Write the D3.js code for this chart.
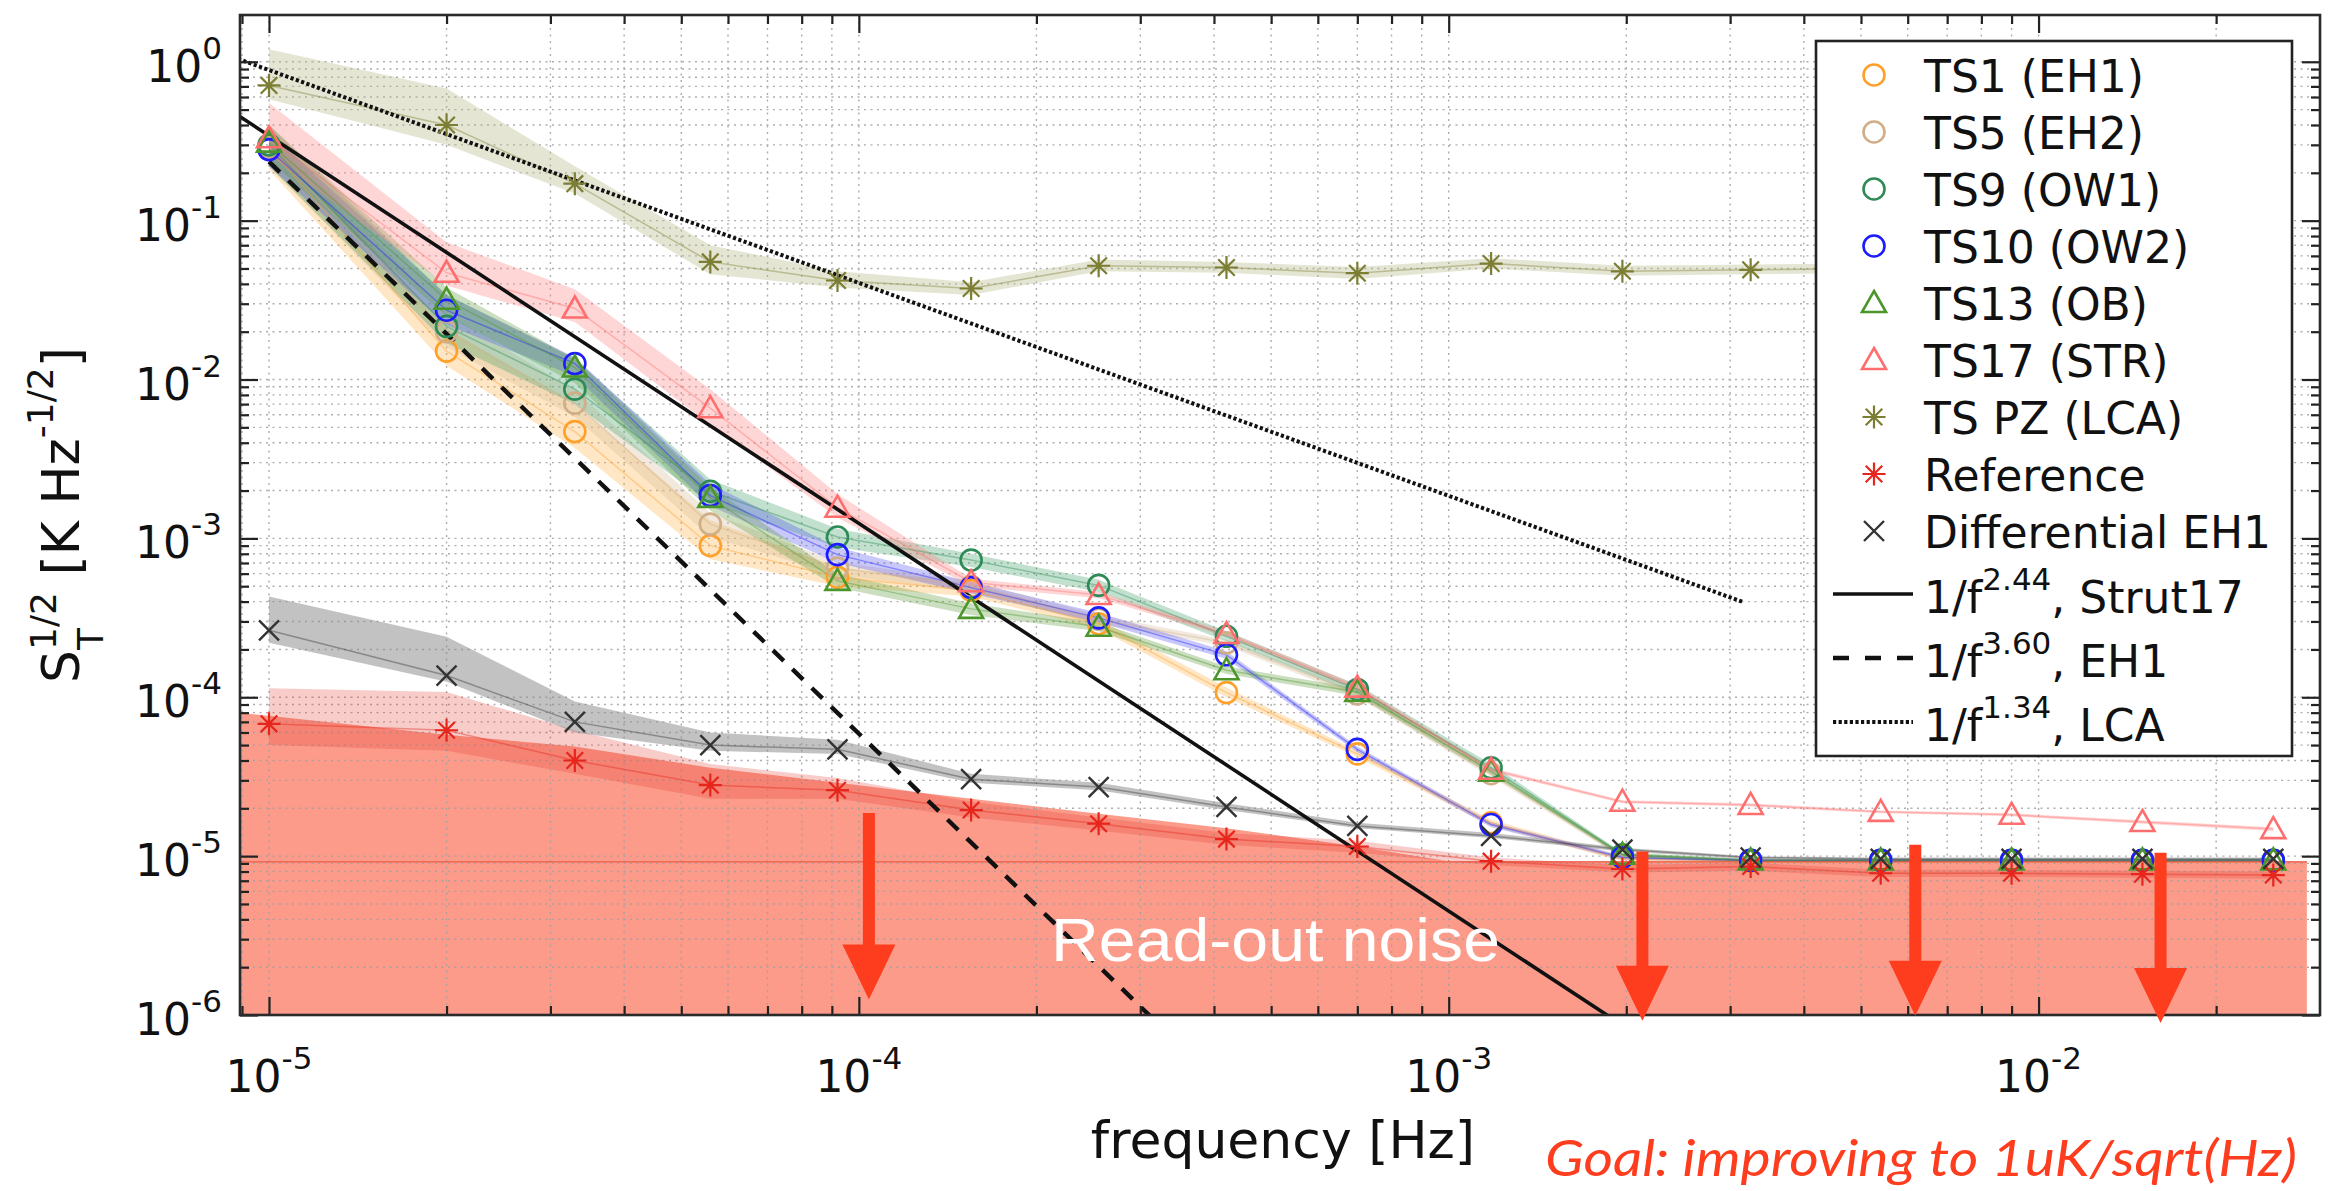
<!DOCTYPE html>
<html>
<head>
<meta charset="utf-8">
<script src="https://cdn.jsdelivr.net/npm/d3@7"></script>
<style>
  html, body { margin: 0; padding: 0; background: #fff; }
  svg { display: block; }
</style>
</head>
<body>
<svg id="chart" width="2330" height="1191"></svg>
<script>
// ---------------------------------------------------------------------------
// Data: temperature noise spectral density S_T^(1/2) [K Hz^-1/2] per sensor
// ---------------------------------------------------------------------------
const freq = [1e-5, 2e-5, 3.3e-5, 5.6e-5, 9.2e-5, 1.55e-4, 2.55e-4, 4.2e-4,
              7.0e-4, 1.18e-3, 1.97e-3, 3.25e-3, 5.4e-3, 9.0e-3, 1.5e-2, 2.5e-2];

const ts1Val = [0.29, 0.0151, 4.7e-3, 9.0e-4, 5.7e-4, 4.7e-4, 2.9e-4, 1.07e-4, 4.4e-5, 1.62e-5, 9.6e-6, 9.3e-6, 9.3e-6, 9.3e-6, 9.3e-6, 9.3e-6];
const ts1Lo  = [0.21, 0.0122, 3.7e-3, 7.4e-4, 5.0e-4, 4.3e-4, 2.7e-4, 1.0e-4, 4.2e-5, 1.55e-5, 9.3e-6, 9.1e-6, 9.1e-6, 9.1e-6, 9.1e-6, 9.1e-6];
const ts1Hi  = [0.36, 0.021, 7.0e-3, 1.3e-3, 6.6e-4, 5.2e-4, 3.1e-4, 1.15e-4, 4.6e-5, 1.7e-5, 9.9e-6, 9.5e-6, 9.5e-6, 9.5e-6, 9.5e-6, 9.5e-6];

const ts5Val = [0.29, 0.020, 7.1e-3, 1.23e-3, 6.5e-4, 5.0e-4, 3.1e-4, 2.2e-4, 1.05e-4, 3.3e-5, 1.0e-5, 9.4e-6, 9.4e-6, 9.4e-6, 9.4e-6, 9.4e-6];
const ts5Lo  = [0.22, 0.016, 5.8e-3, 1.02e-3, 5.9e-4, 4.6e-4, 2.9e-4, 2.1e-4, 1.0e-4, 3.15e-5, 9.7e-6, 9.2e-6, 9.2e-6, 9.2e-6, 9.2e-6, 9.2e-6];
const ts5Hi  = [0.38, 0.026, 8.6e-3, 1.45e-3, 7.1e-4, 5.4e-4, 3.3e-4, 2.3e-4, 1.1e-4, 3.45e-5, 1.03e-5, 9.6e-6, 9.6e-6, 9.6e-6, 9.6e-6, 9.6e-6];

const ts9Val = [0.30, 0.0216, 8.7e-3, 1.98e-3, 1.02e-3, 7.3e-4, 5.06e-4, 2.42e-4, 1.12e-4, 3.6e-5, 1.02e-5, 9.4e-6, 9.4e-6, 9.4e-6, 9.4e-6, 9.4e-6];
const ts9Lo  = [0.22, 0.017, 7.0e-3, 1.65e-3, 8.8e-4, 6.6e-4, 4.6e-4, 2.25e-4, 1.05e-4, 3.4e-5, 9.8e-6, 9.2e-6, 9.2e-6, 9.2e-6, 9.2e-6, 9.2e-6];
const ts9Hi  = [0.40, 0.034, 0.0135, 2.35e-3, 1.15e-3, 8.0e-4, 5.5e-4, 2.6e-4, 1.2e-4, 3.8e-5, 1.05e-5, 9.6e-6, 9.6e-6, 9.6e-6, 9.6e-6, 9.6e-6];

const ts10Val = [0.28, 0.0273, 0.0126, 1.86e-3, 7.9e-4, 4.9e-4, 3.16e-4, 1.85e-4, 4.7e-5, 1.58e-5, 9.8e-6, 9.4e-6, 9.4e-6, 9.4e-6, 9.4e-6, 9.4e-6];
const ts10Lo  = [0.22, 0.022, 0.0105, 1.6e-3, 7.0e-4, 4.5e-4, 2.95e-4, 1.75e-4, 4.5e-5, 1.52e-5, 9.5e-6, 9.2e-6, 9.2e-6, 9.2e-6, 9.2e-6, 9.2e-6];
const ts10Hi  = [0.36, 0.034, 0.0138, 2.2e-3, 8.8e-4, 5.3e-4, 3.4e-4, 1.95e-4, 4.9e-5, 1.64e-5, 1.01e-5, 9.6e-6, 9.6e-6, 9.6e-6, 9.6e-6, 9.6e-6];

const ts13Val = [0.31, 0.0318, 0.0119, 1.8e-3, 5.4e-4, 3.6e-4, 2.78e-4, 1.48e-4, 1.08e-4, 3.4e-5, 1.02e-5, 9.4e-6, 9.4e-6, 9.4e-6, 9.4e-6, 9.4e-6];
const ts13Lo  = [0.24, 0.025, 9.5e-3, 1.5e-3, 4.9e-4, 3.3e-4, 2.6e-4, 1.4e-4, 1.02e-4, 3.25e-5, 9.9e-6, 9.2e-6, 9.2e-6, 9.2e-6, 9.2e-6, 9.2e-6];
const ts13Hi  = [0.40, 0.038, 0.0135, 2.1e-3, 6.0e-4, 3.9e-4, 2.95e-4, 1.56e-4, 1.14e-4, 3.55e-5, 1.05e-5, 9.6e-6, 9.6e-6, 9.6e-6, 9.6e-6, 9.6e-6];

const ts17Val = [0.33, 0.047, 0.028, 6.6e-3, 1.56e-3, 5.3e-4, 4.4e-4, 2.5e-4, 1.15e-4, 3.5e-5, 2.2e-5, 2.1e-5, 1.9e-5, 1.82e-5, 1.64e-5, 1.48e-5];
const ts17Lo  = [0.26, 0.039, 0.023, 5.2e-3, 1.35e-3, 5.0e-4, 4.2e-4, 2.4e-4, 1.1e-4, 3.4e-5, 2.15e-5, 2.05e-5, 1.86e-5, 1.78e-5, 1.6e-5, 1.44e-5];
const ts17Hi  = [0.55, 0.073, 0.037, 8.7e-3, 1.9e-3, 5.6e-4, 4.6e-4, 2.6e-4, 1.2e-4, 3.6e-5, 2.25e-5, 2.15e-5, 1.94e-5, 1.86e-5, 1.68e-5, 1.52e-5];

const pzVal = [0.71, 0.40, 0.171, 0.055, 0.042, 0.0374, 0.052, 0.0507, 0.0467, 0.0537, 0.048, 0.049, 0.050, 0.050, 0.050, 0.050];
const pzLo  = [0.58, 0.30, 0.148, 0.046, 0.038, 0.034, 0.048, 0.047, 0.043, 0.050, 0.045, 0.046, 0.047, 0.047, 0.047, 0.047];
const pzHi  = [1.20, 0.68, 0.22, 0.070, 0.048, 0.041, 0.057, 0.055, 0.051, 0.058, 0.052, 0.053, 0.054, 0.054, 0.054, 0.054];

const refVal = [6.8e-5, 6.2e-5, 4.0e-5, 2.8e-5, 2.6e-5, 1.95e-5, 1.6e-5, 1.28e-5, 1.15e-5, 9.3e-6, 8.3e-6, 8.6e-6, 7.8e-6, 7.8e-6, 7.7e-6, 7.6e-6];
const refLo  = [5.0e-5, 4.6e-5, 3.3e-5, 2.3e-5, 2.3e-5, 1.75e-5, 1.45e-5, 1.18e-5, 1.05e-5, 8.8e-6, 7.9e-6, 8.1e-6, 7.4e-6, 7.4e-6, 7.3e-6, 7.2e-6];
const refHi  = [1.14e-4, 1.08e-4, 6.2e-5, 3.8e-5, 3.1e-5, 2.2e-5, 1.75e-5, 1.4e-5, 1.25e-5, 9.8e-6, 8.8e-6, 9.1e-6, 8.2e-6, 8.2e-6, 8.1e-6, 8.0e-6];

const diffVal = [2.64e-4, 1.37e-4, 7.0e-5, 5.0e-5, 4.7e-5, 3.05e-5, 2.72e-5, 2.04e-5, 1.55e-5, 1.34e-5, 1.1e-5, 9.8e-6, 9.6e-6, 9.6e-6, 9.6e-6, 9.6e-6];
const diffLo  = [2.2e-4, 1.25e-4, 6.0e-5, 4.6e-5, 4.4e-5, 2.9e-5, 2.6e-5, 1.95e-5, 1.5e-5, 1.3e-5, 1.07e-5, 9.6e-6, 9.4e-6, 9.4e-6, 9.4e-6, 9.4e-6];
const diffHi  = [4.3e-4, 2.4e-4, 9.4e-5, 6.0e-5, 5.4e-5, 3.3e-5, 2.9e-5, 2.15e-5, 1.62e-5, 1.4e-5, 1.13e-5, 1.0e-5, 9.8e-6, 9.8e-6, 9.8e-6, 9.8e-6];

// Read-out noise floor region (upper boundary)
const readoutFreq  = [8.93e-6, 2e-5, 3.3e-5, 5.6e-5, 9.2e-5, 1.55e-4, 2.55e-4, 4.2e-4, 7.0e-4, 1.0e-3, 2.85e-2];
const readoutLevel = [8.0e-5, 5.8e-5, 4.9e-5, 3.6e-5, 2.9e-5, 2.3e-5, 1.85e-5, 1.5e-5, 1.15e-5, 9.3e-6, 9.3e-6];
const readoutFloor = 9.2e-6;

// Power-law fits S = A / f^n
const fitExponent = [2.44, 3.60, 1.34];
const fitAmplitude = [2.16e-13, 2.35e-19, 1.77e-7];
const fitName = ["Strut17", "EH1", "LCA"];
const fitRange = [[8.5e-6, 2.2e-3], [1.0e-5, 3.3e-4], [8.5e-6, 3.15e-3]];

// Axis ticks
const xTickExp = [-5, -4, -3, -2];
const yTickExp = [-6, -5, -4, -3, -2, -1, 0];
const xDomain = [8.93e-6, 3.0e-2];
const yDomain = [1e-6, 1.97];

// Improvement arrows (frequency, start level, tip level)
const arrowFreq = [1.04e-4, 2.13e-3, 6.18e-3, 1.61e-2];
const arrowTop  = [1.87e-5, 1.07e-5, 1.18e-5, 1.05e-5];
const arrowTip  = [1.25e-6, 9.2e-7, 9.9e-7, 8.9e-7];

// ---------------------------------------------------------------------------
const W = 2330, H = 1191;
const plot = { left: 240, right: 2320, top: 15, bottom: 1015 };
const FONT = "'DejaVu Sans', sans-serif";

const x = d3.scaleLog().domain(xDomain).range([plot.left, plot.right]);
const y = d3.scaleLog().domain(yDomain).range([plot.bottom, plot.top]);

const series = [
  { name: "TS1 (EH1)",  val: ts1Val,  lo: ts1Lo,  hi: ts1Hi,  marker: "circle",   color: "#FFA02A", band: "#FFB040", op: 0.30 },
  { name: "TS5 (EH2)",  val: ts5Val,  lo: ts5Lo,  hi: ts5Hi,  marker: "circle",   color: "#CFAE88", band: "#D8BC98", op: 0.32 },
  { name: "TS9 (OW1)",  val: ts9Val,  lo: ts9Lo,  hi: ts9Hi,  marker: "circle",   color: "#2E8B57", band: "#3E9E68", op: 0.32 },
  { name: "TS10 (OW2)", val: ts10Val, lo: ts10Lo, hi: ts10Hi, marker: "circle",   color: "#1C1CFF", band: "#4A4AF0", op: 0.30 },
  { name: "TS13 (OB)",  val: ts13Val, lo: ts13Lo, hi: ts13Hi, marker: "triangle", color: "#4B962A", band: "#5E9A3A", op: 0.32 },
  { name: "TS17 (STR)", val: ts17Val, lo: ts17Lo, hi: ts17Hi, marker: "triangle", color: "#FF6E6E", band: "#FF8A8A", op: 0.35 },
  { name: "TS PZ (LCA)",val: pzVal,   lo: pzLo,   hi: pzHi,   marker: "asterisk", color: "#7C7E33", band: "#B4B684", op: 0.36 },
  { name: "Reference",  val: refVal,  lo: refLo,  hi: refHi,  marker: "asterisk", color: "#E6261C", band: "#E03A30", op: 0.26 },
  { name: "Differential EH1", val: diffVal, lo: diffLo, hi: diffHi, marker: "cross", color: "#333333", band: "#8A8A8A", op: 0.52 }
];

const fits = fitExponent.map((n, i) => ({
  n, amp: fitAmplitude[i], name: fitName[i], range: fitRange[i],
  dash: [null, "15,12", "3.2,2.4"][i],
  legendDash: [null, "16,16", "3.2,2.4"][i],
  width: [3.6, 4.4, 4.0][i]
}));

const svg = d3.select("#chart");
svg.append("rect").attr("width", W).attr("height", H).attr("fill", "#fff");

svg.append("defs").append("clipPath").attr("id", "plotClip")
  .append("rect")
  .attr("x", plot.left).attr("y", plot.top)
  .attr("width", plot.right - plot.left).attr("height", plot.bottom - plot.top);

const gPlot = svg.append("g").attr("clip-path", "url(#plotClip)");

// read-out noise region
const readoutArea = d3.area()
  .x(d => x(d[0])).y0(y(yDomain[0])).y1(d => y(d[1]));
gPlot.append("path")
  .datum(d3.zip(readoutFreq, readoutLevel))
  .attr("d", readoutArea)
  .attr("fill", "#FC9B8A");

// grid (major and minor, dotted)
const xMajor = xTickExp.map(e => Math.pow(10, e));
const yMajor = yTickExp.map(e => Math.pow(10, e));
const minorOf = (lo, hi, dom) => {
  const out = [];
  for (let e = lo; e <= hi; e++) for (let m = 2; m <= 9; m++) {
    const v = m * Math.pow(10, e);
    if (v > dom[0] && v < dom[1]) out.push(v);
  }
  return out;
};
const xMinor = minorOf(-6, -2, xDomain);
const yMinor = minorOf(-7, 0, yDomain);

const grid = gPlot.append("g")
  .attr("stroke", "#a0a0a0").attr("stroke-width", 1.4)
  .attr("stroke-dasharray", "2,4.5").attr("opacity", 0.85);
grid.selectAll("line.gx").data(xMajor.concat(xMinor)).join("line")
  .attr("class", "gx")
  .attr("x1", d => x(d)).attr("x2", d => x(d))
  .attr("y1", plot.top).attr("y2", plot.bottom);
grid.selectAll("line.gy").data(yMajor.concat(yMinor)).join("line")
  .attr("class", "gy")
  .attr("y1", d => y(d)).attr("y2", d => y(d))
  .attr("x1", plot.left).attr("x2", plot.right);

// uncertainty bands
const bandArea = d3.area()
  .x(d => x(d.f)).y0(d => y(d.lo)).y1(d => y(d.hi));
series.forEach(s => {
  const pts = freq.map((f, i) => ({ f, lo: s.lo[i], hi: s.hi[i] }));
  gPlot.append("path").datum(pts)
    .attr("d", bandArea)
    .attr("fill", s.band).attr("fill-opacity", s.op);
});

// thin connecting lines
const valLine = d3.line().x(d => x(d.f)).y(d => y(d.v));
series.forEach(s => {
  const pts = freq.map((f, i) => ({ f, v: s.val[i] }));
  gPlot.append("path").datum(pts)
    .attr("d", valLine).attr("fill", "none")
    .attr("stroke", s.color).attr("stroke-width", 1.5).attr("stroke-opacity", 0.4);
});

// read-out floor line
gPlot.append("line")
  .attr("x1", x(readoutFreq[0])).attr("x2", x(readoutFreq[readoutFreq.length - 1]))
  .attr("y1", y(readoutFloor)).attr("y2", y(readoutFloor))
  .attr("stroke", "#EE4A36").attr("stroke-width", 1.2).attr("opacity", 0.8);

// power-law fits
fits.forEach(ft => {
  const pts = ft.range.map(f => ({ f, v: ft.amp * Math.pow(f, -ft.n) }));
  gPlot.append("path").datum(pts)
    .attr("d", valLine).attr("fill", "none")
    .attr("stroke", "#111").attr("stroke-width", ft.width)
    .attr("stroke-dasharray", ft.dash);
});

// markers
function drawMarker(g, type, cx, cy, color) {
  if (type === "circle") {
    g.append("circle").attr("cx", cx).attr("cy", cy).attr("r", 10.5)
      .attr("fill", "none").attr("stroke", color).attr("stroke-width", 2.6);
  } else if (type === "triangle") {
    const s = 12;
    g.append("path")
      .attr("d", `M${cx},${cy - s} L${cx + s},${cy + s * 0.75} L${cx - s},${cy + s * 0.75} Z`)
      .attr("fill", "none").attr("stroke", color).attr("stroke-width", 2.6)
      .attr("stroke-linejoin", "miter");
  } else if (type === "asterisk") {
    const r = 11.5, d = r * 0.72;
    g.append("path")
      .attr("d", `M${cx},${cy - r}V${cy + r}M${cx - r},${cy}H${cx + r}` +
                 `M${cx - d},${cy - d}L${cx + d},${cy + d}M${cx - d},${cy + d}L${cx + d},${cy - d}`)
      .attr("stroke", color).attr("stroke-width", 2.2).attr("fill", "none");
  } else if (type === "cross") {
    const r = 10;
    g.append("path")
      .attr("d", `M${cx - r},${cy - r}L${cx + r},${cy + r}M${cx - r},${cy + r}L${cx + r},${cy - r}`)
      .attr("stroke", color).attr("stroke-width", 2.4).attr("fill", "none");
  }
}
const gMarks = gPlot.append("g");
series.forEach(s => {
  freq.forEach((f, i) => drawMarker(gMarks, s.marker, x(f), y(s.val[i]), s.color));
});

// axes: inward ticks on all four sides
function ticks(axis, transform, values, len) {
  svg.append("g").attr("transform", transform)
    .call(axis.tickValues(values).tickSize(-len).tickFormat(""))
    .call(g => g.select(".domain").remove())
    .call(g => g.selectAll("line").attr("stroke", "#222").attr("stroke-width", 2.2));
}
ticks(d3.axisBottom(x), `translate(0,${plot.bottom})`, xMajor, 18);
ticks(d3.axisBottom(x), `translate(0,${plot.bottom})`, xMinor, 9);
ticks(d3.axisTop(x), `translate(0,${plot.top})`, xMajor, 18);
ticks(d3.axisTop(x), `translate(0,${plot.top})`, xMinor, 9);
ticks(d3.axisLeft(y), `translate(${plot.left},0)`, yMajor, 18);
ticks(d3.axisLeft(y), `translate(${plot.left},0)`, yMinor, 9);
ticks(d3.axisRight(y), `translate(${plot.right},0)`, yMajor, 18);
ticks(d3.axisRight(y), `translate(${plot.right},0)`, yMinor, 9);

svg.append("rect")
  .attr("x", plot.left).attr("y", plot.top)
  .attr("width", plot.right - plot.left).attr("height", plot.bottom - plot.top)
  .attr("fill", "none").attr("stroke", "#2a2a2a").attr("stroke-width", 2.6);

// tick labels
const tickLabels = svg.append("g").attr("font-family", FONT).attr("fill", "#111");
xTickExp.forEach(e => {
  const t = tickLabels.append("text")
    .attr("x", x(Math.pow(10, e))).attr("y", plot.bottom + 77)
    .attr("text-anchor", "middle").attr("font-size", 44);
  t.append("tspan").text("10");
  t.append("tspan").attr("font-size", 31).attr("dy", -23).text(String(e));
});
yTickExp.forEach(e => {
  const t = tickLabels.append("text")
    .attr("x", 222).attr("y", y(Math.pow(10, e)) + 20)
    .attr("text-anchor", "end").attr("font-size", 44);
  t.append("tspan").text("10");
  t.append("tspan").attr("font-size", 31).attr("dy", -23).text(String(e));
});

// axis labels
svg.append("text")
  .attr("x", (plot.left + plot.right) / 2 + 3).attr("y", 1158)
  .attr("text-anchor", "middle").attr("font-family", FONT).attr("font-size", 52)
  .attr("fill", "#111").text("frequency [Hz]");

(function yLabel() {
  const g = svg.append("g").attr("font-family", FONT).attr("fill", "#111");
  const measure = (str, size) => {
    const t = g.append("text").attr("font-size", size).text(str);
    const w = t.node().getComputedTextLength();
    t.remove();
    return w;
  };
  const big = 52, small = 36;
  const pieces = [
    { t: "S", s: big, dy: 0 },
    { t: "1/2", s: small, dy: -23, stackWith: "T", stackDy: 24 },
    { t: "\u00a0[K Hz", s: big, dy: 0 },
    { t: "-1/2", s: small, dy: -26 },
    { t: "]", s: big, dy: 0 }
  ];
  const widths = pieces.map(p => {
    const w = measure(p.t, p.s);
    return p.stackWith ? Math.max(w, measure(p.stackWith, p.s)) : w;
  });
  const total = d3.sum(widths);
  const lab = g.append("g").attr("transform", `translate(79,${(plot.top + plot.bottom) / 2}) rotate(-90)`);
  let cur = -total / 2;
  pieces.forEach((p, i) => {
    lab.append("text").attr("x", cur).attr("y", p.dy).attr("font-size", p.s).text(p.t);
    if (p.stackWith) lab.append("text").attr("x", cur).attr("y", p.stackDy).attr("font-size", p.s).text(p.stackWith);
    cur += widths[i];
  });
})();

// legend
const legend = { x: 1816, y: 41, w: 476, h: 715, markX: 1874, lineX0: 1833, lineX1: 1913, textX: 1924 };
const lg = svg.append("g").attr("font-family", FONT).attr("fill", "#111");
lg.append("rect")
  .attr("x", legend.x).attr("y", legend.y).attr("width", legend.w).attr("height", legend.h)
  .attr("fill", "#fff").attr("stroke", "#222").attr("stroke-width", 2.6);
const rowBase = i => (i < 9 ? 92 + 57 * i : 613 + 64 * (i - 9));
series.forEach((s, i) => {
  drawMarker(lg, s.marker, legend.markX, rowBase(i) - 17, s.color);
  lg.append("text").attr("x", legend.textX).attr("y", rowBase(i))
    .attr("font-size", 44).text(s.name);
});
fits.forEach((ft, j) => {
  const i = 9 + j;
  lg.append("line")
    .attr("x1", legend.lineX0).attr("x2", legend.lineX1)
    .attr("y1", rowBase(i) - 19).attr("y2", rowBase(i) - 19)
    .attr("stroke", "#111").attr("stroke-width", ft.width)
    .attr("stroke-dasharray", ft.legendDash);
  const t = lg.append("text").attr("x", legend.textX).attr("y", rowBase(i)).attr("font-size", 44);
  t.append("tspan").text("1/f");
  t.append("tspan").attr("font-size", 31).attr("dy", -23).text(ft.n.toFixed(2));
  t.append("tspan").attr("dy", 23).text(", " + ft.name);
});

// annotations
const arrowColor = "#FE3C1E";
arrowFreq.forEach((f, i) => {
  const cx = x(f), yt = y(arrowTop[i]), yp = y(arrowTip[i]);
  const sw = 12, hw = 53, hl = 55, yb = yp - hl;
  svg.append("path")
    .attr("d", `M${cx - sw / 2},${yt}L${cx + sw / 2},${yt}L${cx + sw / 2},${yb}L${cx + hw / 2},${yb}` +
               `L${cx},${yp}L${cx - hw / 2},${yb}L${cx - sw / 2},${yb}Z`)
    .attr("fill", arrowColor);
});

svg.append("text")
  .attr("x", 1051).attr("y", 961)
  .attr("font-family", "'Liberation Sans', Arial, sans-serif").attr("font-size", 62)
  .attr("textLength", 449).attr("lengthAdjust", "spacingAndGlyphs")
  .attr("fill", "#fff").text("Read-out noise");

svg.append("text")
  .attr("x", 1545).attr("y", 1176)
  .attr("font-family", "Lato, 'Open Sans', sans-serif").attr("font-style", "italic")
  .attr("font-size", 50).attr("textLength", 752).attr("lengthAdjust", "spacingAndGlyphs")
  .attr("fill", arrowColor).text("Goal: improving to 1uK/sqrt(Hz)");
</script>
</body>
</html>
